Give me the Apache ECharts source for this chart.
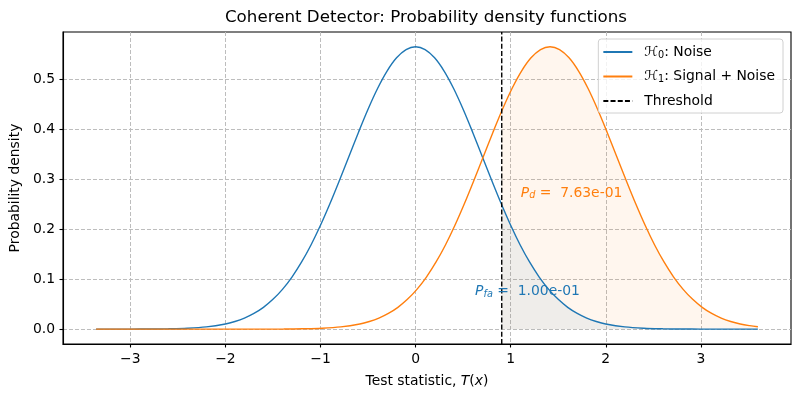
<!DOCTYPE html>
<html>
<head>
<meta charset="utf-8">
<script src="https://cdn.jsdelivr.net/npm/echarts@6/dist/echarts.min.js"></script>
<style>html,body{margin:0;padding:0;background:#fff}#c{width:800px;height:400px}</style>
</head>
<body>
<div id="c"></div>
<script>
// H0: noise pdf (x, density)
const h0X = [-3.36,-3.0,-2.8,-2.6,-2.4,-2.2,-2.0,-1.9,-1.8,-1.7,-1.6,-1.5,-1.4,-1.3,-1.2,-1.1,-1.0,-0.9,-0.8,-0.7,-0.6,-0.5,-0.4,-0.3,-0.2,-0.1,0.0,0.1,0.2,0.3,0.4,0.5,0.6,0.7,0.8,0.9,1.0,1.1,1.2,1.3,1.4,1.5,1.6,1.7,1.8,1.9,2.0,2.2,2.4,2.6,2.8,3.0,3.3,3.6];
const h0Y = [0.0000,0.0001,0.0002,0.0007,0.0018,0.0045,0.0103,0.0153,0.0221,0.0314,0.0436,0.0595,0.0795,0.1041,0.1337,0.1682,0.2076,0.2510,0.2975,0.3456,0.3936,0.4394,0.4808,0.5156,0.5421,0.5586,0.5642,0.5586,0.5421,0.5156,0.4808,0.4394,0.3936,0.3456,0.2975,0.2510,0.2076,0.1682,0.1337,0.1041,0.0795,0.0595,0.0436,0.0314,0.0221,0.0153,0.0103,0.0045,0.0018,0.0007,0.0002,0.0001,0.0000,0.0000];
// H1: signal + noise pdf
const h1X = [-3.36,-1.586,-1.386,-1.186,-0.986,-0.786,-0.586,-0.486,-0.386,-0.286,-0.186,-0.086,0.014,0.114,0.214,0.314,0.414,0.514,0.614,0.714,0.814,0.914,1.014,1.114,1.214,1.314,1.414,1.514,1.614,1.714,1.814,1.914,2.014,2.114,2.214,2.314,2.414,2.514,2.614,2.714,2.814,2.914,3.014,3.114,3.214,3.314,3.414,3.514,3.6];
const h1Y = [0.0000,0.0001,0.0002,0.0007,0.0018,0.0045,0.0103,0.0153,0.0221,0.0314,0.0436,0.0595,0.0795,0.1041,0.1337,0.1682,0.2076,0.2510,0.2975,0.3456,0.3936,0.4394,0.4808,0.5156,0.5421,0.5586,0.5642,0.5586,0.5421,0.5156,0.4808,0.4394,0.3936,0.3456,0.2975,0.2510,0.2076,0.1682,0.1337,0.1041,0.0795,0.0595,0.0436,0.0314,0.0221,0.0153,0.0103,0.0069,0.0047];
const threshold = 0.906;
const h0AtThr = 0.2483;
const h1AtThr = 0.4359;
const pfaText = '1.00e-01';
const pdText = '7.63e-01';
const pdPos = [1.106, 0.263];
const pfaPos = [0.626, 0.066];
const xTicks = [-3, -2, -1, 0, 1, 2, 3];
const yTicks = [0.0, 0.1, 0.2, 0.3, 0.4, 0.5];
const xRange = [-3.708, 3.948];
const yRange = [-0.0297, 0.5937];

const pairs = (xs, ys) => xs.map((x, i) => [x, ys[i]]);
const h0 = pairs(h0X, h0Y);
const h1 = pairs(h1X, h1Y);
const h0Fill = [[threshold, h0AtThr]].concat(h0.filter(p => p[0] > threshold));
const h1Fill = [[threshold, h1AtThr]].concat(h1.filter(p => p[0] > threshold));

const BLUE = '#1f77b4', ORANGE = '#ff7f0e';
const FONT = 'DejaVu Sans';
const SMOOTH = 0.35;

const chart = echarts.init(document.getElementById('c'), null, {renderer: 'canvas'});
chart.setOption({
  animation: false,
  textStyle: {fontFamily: FONT},
  graphic: [{
    type: 'text', x: 426, y: 18,
    style: {text: 'Coherent Detector: Probability density functions', font: '16.7px "DejaVu Sans"', fill: '#000', textAlign: 'center', textVerticalAlign: 'middle'}
  }],
  grid: {left: 61, right: 9, top: 32, bottom: 56, show: true, borderColor: '#000', borderWidth: 1.1, backgroundColor: 'transparent'},
  legend: {
    orient: 'vertical', right: 17, top: 39,
    data: ['H0', 'H1', 'Threshold'],
    itemWidth: 29, itemHeight: 14, itemGap: 9.5,
    padding: [6, 8, 5, 4],
    itemStyle: {color: 'transparent', borderWidth: 0, opacity: 0},
    backgroundColor: 'rgba(255,255,255,0.8)', borderColor: '#d0d0d0', borderWidth: 1, borderRadius: 3,
    formatter: n => n === 'H0' ? '{s|ℋ}{sub|0}: Noise' : n === 'H1' ? '{s|ℋ}{sub|1}: Signal + Noise' : 'Threshold',
    textStyle: {
      fontFamily: FONT, fontSize: 13.9, color: '#000', padding: [0, 0, 0, 7],
      rich: {
        s: {fontFamily: FONT, fontSize: 13.9, fontStyle: 'italic', color: '#000'},
        sub: {fontFamily: FONT, fontSize: 9.7, color: '#000', verticalAlign: 'bottom', padding: [6, 0, 0, 0]}
      }
    }
  },
  xAxis: {
    type: 'value', min: xRange[0], max: xRange[1],
    name: 'Test statistic, {i|T}{n|(}{i|x}{n|)}', nameLocation: 'middle', nameGap: 30,
    nameTextStyle: {fontFamily: FONT, fontSize: 13.9, color: '#000', rich: {i: {fontFamily: FONT, fontSize: 13.9, fontStyle: 'italic', color: '#000'}, n: {fontFamily: FONT, fontSize: 13.9, color: '#000'}}},
    axisLine: {show: true, onZero: false, lineStyle: {color: '#000', width: 1.1}},
    axisTick: {show: true, inside: false, length: 3.5, lineStyle: {color: '#000', width: 1.1}, customValues: xTicks},
    axisLabel: {show: true, margin: 8, fontFamily: FONT, fontSize: 13.9, color: '#000', customValues: xTicks, formatter: v => (v < 0 ? '\u2212' + Math.abs(v) : String(v))},
    splitLine: {show: true, lineStyle: {color: '#bdbdbd', width: 1, type: [4, 2]}}
  },
  yAxis: {
    type: 'value', min: yRange[0], max: yRange[1],
    name: 'Probability density', nameLocation: 'middle', nameGap: 38,
    nameTextStyle: {fontFamily: FONT, fontSize: 13.9, color: '#000'},
    axisLine: {show: true, onZero: false, lineStyle: {color: '#000', width: 1.1}},
    axisTick: {show: true, inside: false, length: 3.5, lineStyle: {color: '#000', width: 1.1}, customValues: yTicks},
    axisLabel: {show: true, margin: 8, fontFamily: FONT, fontSize: 13.9, color: '#000', customValues: yTicks, formatter: v => v.toFixed(1)},
    splitLine: {show: true, lineStyle: {color: '#bdbdbd', width: 1, type: [4, 2]}}
  },
  series: [
    {type: 'line', name: 'H1fill', data: h1Fill, smooth: SMOOTH, symbol: 'none', z: 1,
     lineStyle: {width: 0}, areaStyle: {color: 'rgba(255,127,14,0.1)', origin: 0}, silent: true},
    {type: 'line', name: 'H0fill', data: h0Fill, smooth: SMOOTH, symbol: 'none', z: 1,
     lineStyle: {width: 0}, areaStyle: {color: 'rgba(31,119,180,0.1)', origin: 0}, silent: true},
    {type: 'line', name: 'H0', data: h0, smooth: SMOOTH, symbol: 'none', z: 3, color: BLUE,
     lineStyle: {color: BLUE, width: 1.4}},
    {type: 'line', name: 'H1', data: h1, smooth: SMOOTH, symbol: 'none', z: 3, color: ORANGE,
     lineStyle: {color: ORANGE, width: 1.4}},
    {type: 'line', name: 'Threshold', data: [[threshold, yRange[0]], [threshold, yRange[1]]], symbol: 'none', z: 4, color: '#000',
     lineStyle: {color: '#000', width: 1.4, type: [5, 2.2]}},
    {type: 'scatter', name: 'pd', data: [pdPos], symbolSize: 0, z: 5, silent: true, itemStyle: {opacity: 1},
     label: {show: true, opacity: 1, position: [0, 0], align: 'left', verticalAlign: 'bottom', offset: [0, 3],
       formatter: '{i|P}{sub|d}{t| = }{t| ' + pdText + '}',
       rich: {i: {fontFamily: FONT, fontSize: 13.9, fontStyle: 'italic', color: ORANGE},
              sub: {fontFamily: FONT, fontSize: 9.7, fontStyle: 'italic', color: ORANGE, verticalAlign: 'bottom', padding: [5, 0, 0, 0]},
              t: {fontFamily: FONT, fontSize: 13.9, color: ORANGE}}}},
    {type: 'scatter', name: 'pfa', data: [pfaPos], symbolSize: 0, z: 5, silent: true, itemStyle: {opacity: 1},
     label: {show: true, opacity: 1, position: [0, 0], align: 'left', verticalAlign: 'bottom', offset: [0, 3],
       formatter: '{i|P}{sub|fa}{t| = }{t| ' + pfaText + '}',
       rich: {i: {fontFamily: FONT, fontSize: 13.9, fontStyle: 'italic', color: BLUE},
              sub: {fontFamily: FONT, fontSize: 9.7, fontStyle: 'italic', color: BLUE, verticalAlign: 'bottom', padding: [5, 0, 0, 0]},
              t: {fontFamily: FONT, fontSize: 13.9, color: BLUE}}}}
  ]
});
</script>
</body>
</html>
